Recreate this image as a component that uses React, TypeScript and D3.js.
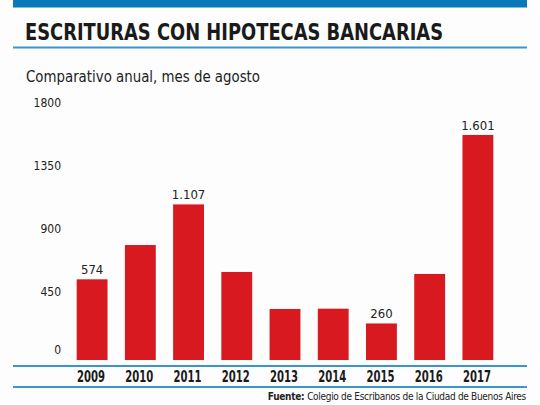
import * as d3 from "d3";
import { useEffect, useRef } from "react";

const years = ["2009", "2010", "2011", "2012", "2013", "2014", "2015", "2016", "2017"];
const values = [574, 818, 1107, 626, 363, 365, 260, 612, 1601];
// only some bars carry a value label in the original
const valueLabels = ["574", "", "1.107", "", "", "", "260", "", "1.601"];
const yTicks = [0, 450, 900, 1350, 1800];

const NARROW = "'Liberation Sans Narrow', 'DejaVu Sans Condensed', 'Roboto', sans-serif";

export default function App() {
  const ref = useRef<SVGSVGElement | null>(null);

  useEffect(() => {
    if (!ref.current) return;
    const svg = d3.select(ref.current);
    svg.selectAll("*").remove();

    const width = 540;
    const height = 405;

    svg.append("rect").attr("width", width).attr("height", height).attr("fill", "#fdfdfd");

    /* header */
    svg.append("rect").attr("x", 13).attr("y", 0).attr("width", 514).attr("height", 7.5).attr("fill", "#0a78b9");

    svg
      .append("text")
      .attr("x", 25)
      .attr("y", 40)
      .attr("textLength", 418)
      .attr("lengthAdjust", "spacingAndGlyphs")
      .style("font-family", NARROW)
      .style("font-weight", "bold")
      .style("font-size", "23px")
      .style("fill", "#1a1a1a")
      .text("ESCRITURAS CON HIPOTECAS BANCARIAS");

    svg.append("rect").attr("x", 13).attr("y", 46.5).attr("width", 514).attr("height", 2).attr("fill", "#3a97c9");

    svg
      .append("text")
      .attr("x", 26)
      .attr("y", 82)
      .attr("textLength", 234)
      .attr("lengthAdjust", "spacingAndGlyphs")
      .style("font-family", NARROW)
      .style("font-size", "15px")
      .style("fill", "#222")
      .text("Comparativo anual, mes de agosto");

    /* scales */
    const x = d3.scaleBand<string>().domain(years).range([68, 502]).paddingInner(0.36).paddingOuter(0.18);
    const y = d3.scaleLinear().domain([0, 1800]).range([360, 107]);

    /* y tick labels */
    svg
      .selectAll(".ytick")
      .data(yTicks)
      .enter()
      .append("text")
      .attr("class", "ytick")
      .attr("x", 61)
      .attr("y", (d) => (d === 0 ? y(d) - 10 : y(d) - 4))
      .attr("text-anchor", "end")
      .attr("dominant-baseline", "middle")
      .style("font-family", NARROW)
      .style("font-size", "12px")
      .style("fill", "#222")
      .text((d) => String(d));

    /* bars */
    svg
      .selectAll(".bar")
      .data(values)
      .enter()
      .append("rect")
      .attr("class", "bar")
      .attr("x", (_, i) => x(years[i])!)
      .attr("y", (d) => y(d))
      .attr("width", x.bandwidth())
      .attr("height", (d) => y(0) - y(d))
      .attr("fill", "#d8191f");

    /* value labels */
    svg
      .selectAll(".vlabel")
      .data(values)
      .enter()
      .append("text")
      .attr("class", "vlabel")
      .attr("x", (_, i) => x(years[i])! + x.bandwidth() / 2)
      .attr("y", (d) => y(d) - 5)
      .attr("text-anchor", "middle")
      .style("font-family", NARROW)
      .style("font-size", "13px")
      .style("fill", "#222")
      .text((_, i) => valueLabels[i]);

    /* x axis band */
    svg.append("rect").attr("x", 13).attr("y", 365).attr("width", 514).attr("height", 2).attr("fill", "#3a97c9");
    svg.append("rect").attr("x", 13).attr("y", 386).attr("width", 514).attr("height", 2).attr("fill", "#3a97c9");

    svg
      .selectAll(".year")
      .data(years)
      .enter()
      .append("text")
      .attr("class", "year")
      .attr("x", (d) => x(d)! + x.bandwidth() / 2 - 15)
      .attr("y", 382)
      .attr("textLength", 28)
      .attr("lengthAdjust", "spacingAndGlyphs")
      .style("font-family", NARROW)
      .style("font-weight", "bold")
      .style("font-size", "15.5px")
      .style("fill", "#1a1a1a")
      .text((d) => d);

    /* source */
    const src = svg
      .append("text")
      .attr("x", 526)
      .attr("y", 400)
      .attr("text-anchor", "end")
      .style("font-family", NARROW)
      .style("font-size", "10px")
      .style("letter-spacing", "-0.3px")
      .style("fill", "#222");
    src.append("tspan").style("font-weight", "bold").text("Fuente: ");
    src.append("tspan").text("Colegio de Escribanos de la Ciudad de Buenos Aires");
  }, []);

  return (
    <svg
      ref={ref}
      width={540}
      height={405}
      style={{ position: "absolute", left: 0, top: 0, display: "block" }}
    />
  );
}
